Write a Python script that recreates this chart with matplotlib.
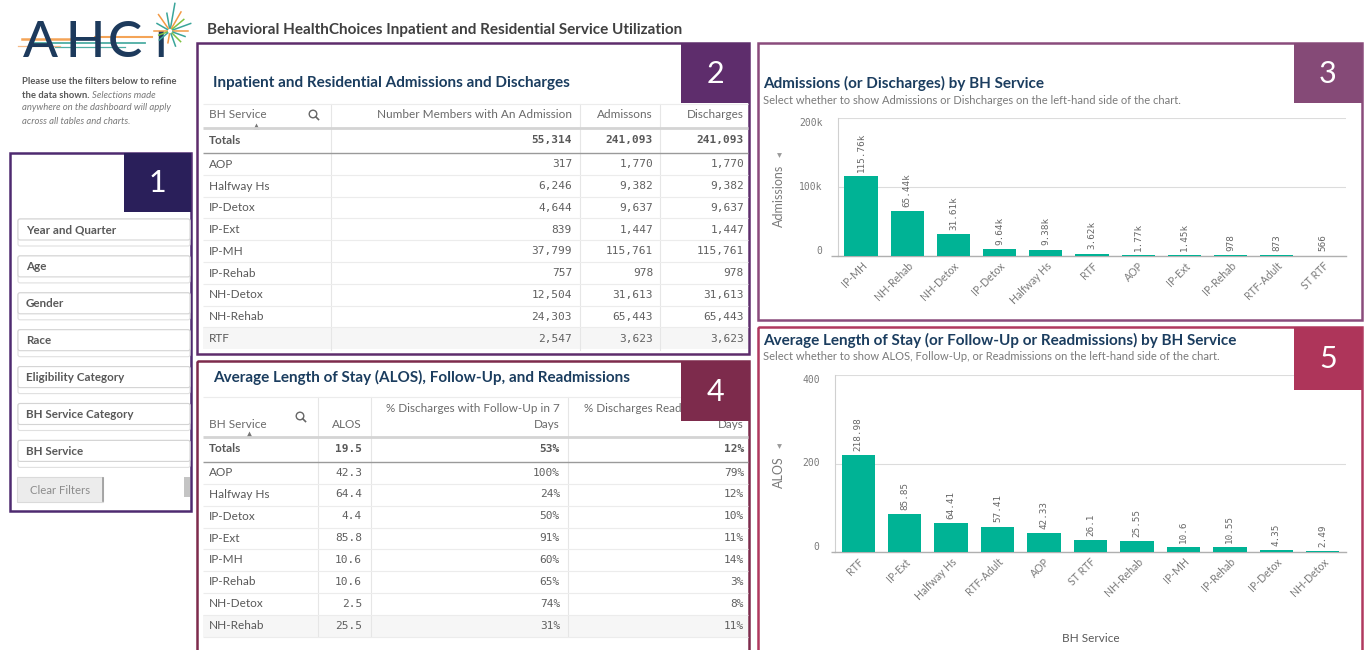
import matplotlib
matplotlib.use("Agg")
import matplotlib.pyplot as plt
from matplotlib.patches import Rectangle, FancyBboxPatch, Circle
import numpy as np

W, H = 1364, 650
SANS = ['Lato', 'DejaVu Sans']
MONO = 'DejaVu Sans Mono'
plt.rcParams['font.family'] = SANS

# --- table 2: admissions and discharges ---
services = ['AOP', 'Halfway Hs', 'IP-Detox', 'IP-Ext', 'IP-MH', 'IP-Rehab',
            'NH-Detox', 'NH-Rehab', 'RTF']
members = [317, 6246, 4644, 839, 37799, 757, 12504, 24303, 2547]
admissions = [1770, 9382, 9637, 1447, 115761, 978, 31613, 65443, 3623]
discharges = [1770, 9382, 9637, 1447, 115761, 978, 31613, 65443, 3623]
total_members = 55314
total_admissions = 241093
total_discharges = 241093

# --- table 4: ALOS, follow-up, readmissions ---
alos_services = ['AOP', 'Halfway Hs', 'IP-Detox', 'IP-Ext', 'IP-MH', 'IP-Rehab',
                 'NH-Detox', 'NH-Rehab']
alos_table = [42.3, 64.4, 4.4, 85.8, 10.6, 10.6, 2.5, 25.5]
followup_pct = [100, 24, 50, 91, 60, 65, 74, 31]
readmit_pct = [79, 12, 10, 11, 14, 3, 8, 11]
total_alos = 19.5
total_followup = 53
total_readmit = 12

# --- chart 3 ---
adm_cats = ['IP-MH', 'NH-Rehab', 'NH-Detox', 'IP-Detox', 'Halfway Hs', 'RTF',
            'AOP', 'IP-Ext', 'IP-Rehab', 'RTF-Adult', 'ST RTF']
adm_vals = [115761, 65443, 31613, 9637, 9382, 3623, 1770, 1447, 978, 873, 566]

# --- chart 5 ---
alos_cats = ['RTF', 'IP-Ext', 'Halfway Hs', 'RTF-Adult', 'AOP', 'ST RTF',
             'NH-Rehab', 'IP-MH', 'IP-Rehab', 'IP-Detox', 'NH-Detox']
alos_vals = [218.98, 85.85, 64.41, 57.41, 42.33, 26.1, 25.55, 10.6, 10.55, 4.35, 2.49]

filters = ['Year and Quarter', 'Age', 'Gender', 'Race', 'Eligibility Category',
           'BH Service Category', 'BH Service']

TEAL = '#00b395'
NAVY = '#1b3d5f'
GREY = '#595959'


def fmt_k(v):
    if v >= 1000:
        return f"{v / 1000:.2f}k"
    return str(v)


def fmt_num(v):
    return f"{v:.2f}".rstrip('0').rstrip('.')


def px_axes(fig, x0, y0, x1, y1):
    return fig.add_axes([x0 / W, 1 - y1 / H, (x1 - x0) / W, (y1 - y0) / H])


def number_box(bg, x0, y0, x1, y1, color, digit):
    bg.add_patch(Rectangle((x0, y0), x1 - x0, y1 - y0, fc=color, ec=color, lw=0, zorder=6))
    bg.text((x0 + x1) / 2, (y0 + y1) / 2 + 1, digit, color='white', fontsize=22,
            ha='center', va='center', zorder=7)


def search_icon(bg, x, y):
    bg.add_patch(Circle((x - 1, y - 1), 3.8, fill=False, ec='#666666', lw=1.0))
    bg.plot([x + 1.8, x + 4.5], [y + 1.8, y + 4.5], color='#666666', lw=1.2)


def sort_arrow(bg, x, y):
    bg.plot(x, y, marker='^', ms=4, color='#777777', mec='none')


def hline(bg, x0, x1, y, color, lw=0.8, z=2):
    bg.plot([x0, x1], [y, y], color=color, lw=lw, zorder=z, solid_capstyle='butt')


def bar_chart(ax, cats, vals, labels, ymax, ticks, ticklabels):
    x = np.arange(len(cats))
    ax.set_facecolor('none')
    ax.set_zorder(0)
    ax.bar(x, vals, width=0.72, color=TEAL, zorder=3)
    ax.set_xlim(-0.5, len(cats) - 0.5)
    ax.set_ylim(0, ymax)
    ax.set_yticks(ticks)
    ax.set_yticklabels(ticklabels, family=MONO, fontsize=7, color='#7a7a7a')
    for lab, va in zip(ax.get_yticklabels(), ['bottom', 'center', 'top']):
        lab.set_va(va)
    ax.tick_params(axis='y', length=0, pad=11)
    ax.tick_params(axis='x', length=0, pad=3)
    ax.grid(axis='y', color='#dcdcdc', lw=0.8, zorder=0)
    for s in ['top', 'right']:
        ax.spines[s].set_visible(False)
    ax.spines['left'].set_color('#d0d0d0')
    ax.spines['left'].set_linewidth(0.8)
    ax.spines['bottom'].set_color('#b0b0b0')
    ax.spines['bottom'].set_linewidth(1.0)
    for xi, v, s in zip(x, vals, labels):
        ax.annotate(s, (xi, v), xytext=(0, 3), textcoords='offset points', rotation=90,
                    ha='center', va='bottom', family=MONO, fontsize=6.7, color='#666666')
    ax.set_xticks(x)
    ax.set_xticklabels(cats, rotation=45, ha='right', rotation_mode='anchor',
                       fontsize=7.6, color='#7a7a7a')


def draw_logo(bg):
    # horizontal streaks behind the letters
    streaks = [(22, 70, 39, '#f39a45', 1.8), (95, 152, 37, '#f39a45', 1.5),
               (30, 145, 43, '#3aa59a', 1.3), (55, 125, 47, '#3aa59a', 0.9),
               (18, 60, 46, '#f6b27a', 0.9)]
    for x0, x1, y, c, lw in streaks:
        bg.plot([x0, x1], [y, y], color=c, lw=lw, alpha=0.9, zorder=3)
    for ch, x in zip(['A', 'H', 'C', 'ı'], [23, 66, 108, 154]):
        bg.text(x, 57, ch, fontsize=37, weight='medium', color='#1d3a5c', va='baseline',
                ha='left', zorder=4)
    cx, cy = 170, 31
    rays = [(80, 28, '#3aa59a'), (60, 22, '#f39a45'), (40, 18, '#7dc242'), (20, 22, '#3aa59a'),
            (0, 18, '#f39a45'), (-20, 16, '#3aa59a'), (-45, 15, '#7dc242'), (100, 18, '#3aa59a'),
            (125, 20, '#f39a45'), (150, 15, '#3aa59a'), (180, 16, '#f39a45'), (-70, 16, '#3aa59a'),
            (200, 12, '#7dc242'), (-100, 12, '#f39a45'), (-140, 14, '#3aa59a')]
    for ang, ln, c in rays:
        a = np.deg2rad(ang)
        bg.plot([cx + 3 * np.cos(a), cx + ln * np.cos(a)], [cy - 3 * np.sin(a), cy - ln * np.sin(a)],
                color=c, lw=1.1, zorder=5)


def main():
    fig = plt.figure(figsize=(W / 100, H / 100), dpi=100)
    bg = fig.add_axes([0, 0, 1, 1])
    bg.set_xlim(0, W)
    bg.set_ylim(H, 0)
    bg.axis('off')
    bg.set_zorder(2)

    # ---- left column ----
    draw_logo(bg)
    bg.text(22, 82, 'Please use the filters below to refine', fontsize=6.8, weight='bold',
            color=GREY, va='center')
    bg.text(22, 95, 'the data shown.', fontsize=6.8, weight='bold', color=GREY, va='center')
    bg.text(92, 95, 'Selections made', fontsize=6.8, style='italic', color='#7a7a7a', va='center')
    bg.text(22, 108, 'anywhere on the dashboard will apply', fontsize=6.8, style='italic',
            color='#7a7a7a', va='center')
    bg.text(22, 122, 'across all tables and charts.', fontsize=6.8, style='italic',
            color='#7a7a7a', va='center')

    bg.add_patch(Rectangle((10, 153), 181, 358, fill=False, ec='#4e2a70', lw=1.8))
    number_box(bg, 124, 153, 191, 212, '#2a1f5a', '1')
    for i, name in enumerate(filters):
        yc = 230 + i * 36.9
        bg.add_patch(FancyBboxPatch((18, yc - 11), 172, 27, boxstyle='round,pad=0,rounding_size=2',
                                    fc='white', ec='#e0e0e0', lw=0.8))
        bg.add_patch(FancyBboxPatch((18, yc - 11), 172, 21, boxstyle='round,pad=0,rounding_size=2',
                                    fc='white', ec='#d4d4d4', lw=0.8))
        bg.text(26, yc, name, fontsize=8.4, weight='bold', color=GREY, va='center')
    bg.add_patch(Rectangle((17, 477), 86, 25, fc='#ececec', ec='#dadada', lw=0.8))
    bg.plot([103, 103], [478, 501], color='#9a9a9a', lw=1.2)
    bg.text(60, 490, 'Clear Filters', fontsize=8.2, color='#8c8c8c', ha='center', va='center')
    bg.add_patch(Rectangle((184, 477), 6, 20, fc='#c4c4c4', ec='none'))

    bg.text(207, 30, 'Behavioral HealthChoices Inpatient and Residential Service Utilization',
            fontsize=11, weight='bold', color='#404040', va='center')

    # ---- panel 2: admissions table ----
    bg.add_patch(Rectangle((197, 43), 552, 311, fill=False, ec='#5e2d6c', lw=1.8))
    number_box(bg, 681, 43, 749, 103, '#5e2d6c', '2')
    bg.text(213, 83, 'Inpatient and Residential Admissions and Discharges', fontsize=11,
            weight='bold', color=NAVY, va='center')
    row_h = 21.8
    bg.add_patch(Rectangle((203, 153 + 8 * row_h), 545, row_h, fc='#f6f6f6', ec='none', zorder=1))
    for xs in [331, 580, 660]:
        bg.plot([xs, xs], [104, 350], color='#e6e6e6', lw=0.8)
    hline(bg, 203, 748, 104, '#ececec')
    bg.text(209, 115, 'BH Service', fontsize=8.5, color='#6a6a6a', va='center')
    search_icon(bg, 314, 115)
    sort_arrow(bg, 256, 126)
    for s, xr in zip(['Number Members with An Admission', 'Admissons', 'Discharges'], [572, 653, 744]):
        bg.text(xr, 115, s, fontsize=8.5, color='#6a6a6a', ha='right', va='center')
    hline(bg, 203, 748, 128, '#d4d4d4', lw=2)
    bg.text(209, 140, 'Totals', fontsize=8.5, weight='bold', color=GREY, va='center')
    for v, xr in zip([total_members, total_admissions, total_discharges], [572, 653, 744]):
        bg.text(xr, 140, f"{v:,}", family=MONO, fontsize=8, weight='bold', color=GREY,
                ha='right', va='center')
    hline(bg, 203, 748, 153, '#9a9a9a', lw=1)
    for i, svc in enumerate(services):
        y = 164.2 + i * row_h
        bg.text(209, y, svc, fontsize=8.5, color=GREY, va='center')
        for v, xr in zip([members[i], admissions[i], discharges[i]], [572, 653, 744]):
            bg.text(xr, y, f"{v:,}", family=MONO, fontsize=8, color='#606060', ha='right', va='center')
        if i < len(services) - 1:
            hline(bg, 203, 748, 153 + (i + 1) * row_h, '#ececec')

    # ---- panel 4: ALOS table ----
    bg.add_patch(Rectangle((197, 361), 552, 300, fill=False, ec='#7d2b4c', lw=1.8))
    bg.text(213, 377, 'Average Length of Stay (ALOS), Follow-Up, and Readmissions', fontsize=11,
            weight='bold', color=NAVY, va='center')
    row_h = 21.86
    bg.add_patch(Rectangle((203, 462 + 7 * row_h), 545, row_h, fc='#f6f6f6', ec='none', zorder=1))
    for xs in [317.5, 371, 568]:
        bg.plot([xs, xs], [397, 636], color='#e6e6e6', lw=0.8)
    hline(bg, 203, 748, 397, '#ececec')
    bg.text(209, 424, 'BH Service', fontsize=8.5, color='#6a6a6a', va='center')
    search_icon(bg, 301, 417)
    sort_arrow(bg, 249, 434)
    bg.text(362, 424, 'ALOS', fontsize=8.5, color='#6a6a6a', ha='right', va='center')
    bg.text(560, 408, '% Discharges with Follow-Up in 7', fontsize=8.4, color='#6a6a6a',
            ha='right', va='center')
    bg.text(560, 424, 'Days', fontsize=8.4, color='#6a6a6a', ha='right', va='center')
    # this header runs under the number badge; clip it at the badge edge
    head = bg.text(744, 408, '% Discharges Readmitted in 30', fontsize=8.4, color='#6a6a6a',
                   ha='right', va='center', zorder=2)
    head.set_clip_path(Rectangle((568, 395), 681 - 568, 30, transform=bg.transData))
    bg.text(744, 424, 'Days', fontsize=8.4, color='#6a6a6a', ha='right', va='center', zorder=2)
    number_box(bg, 681, 361, 749, 421, '#7d2b4c', '4')
    hline(bg, 203, 748, 437, '#d4d4d4', lw=2)
    bg.text(209, 449, 'Totals', fontsize=8.5, weight='bold', color=GREY, va='center')
    for s, xr in zip([f"{total_alos:.1f}", f"{total_followup}%", f"{total_readmit}%"], [362, 560, 744]):
        bg.text(xr, 449, s, family=MONO, fontsize=8, weight='bold', color=GREY, ha='right', va='center')
    hline(bg, 203, 748, 462, '#9a9a9a', lw=1)
    for i, svc in enumerate(alos_services):
        y = 472.5 + i * row_h
        bg.text(209, y, svc, fontsize=8.5, color=GREY, va='center')
        for s, xr in zip([f"{alos_table[i]:.1f}", f"{followup_pct[i]}%", f"{readmit_pct[i]}%"],
                         [362, 560, 744]):
            bg.text(xr, y, s, family=MONO, fontsize=8, color='#606060', ha='right', va='center')
        hline(bg, 203, 748, 462 + (i + 1) * row_h, '#ececec')

    # ---- panel 3: admissions chart ----
    bg.add_patch(Rectangle((758, 43), 604, 277, fill=False, ec='#8a4c7c', lw=1.8))
    number_box(bg, 1294, 43, 1362, 103, '#854a77', '3')
    bg.text(763, 83, 'Admissions (or Discharges) by BH Service', fontsize=11, weight='bold',
            color=NAVY, va='center')
    bg.text(763, 100, 'Select whether to show Admissions or Dishcharges on the left-hand side of the chart.',
            fontsize=8, color='#7a7a7a', va='center')
    bg.text(779, 196, 'Admissions', fontsize=9, color='#7a7a7a', rotation=90, ha='center', va='center')
    bg.plot(779, 155, marker='v', ms=3.5, color='#9a9a9a', mec='none')
    hline(bg, 831, 838, 256, '#b0b0b0', lw=1)
    ax3 = px_axes(fig, 838, 118, 1346, 256)
    bar_chart(ax3, adm_cats, adm_vals, [fmt_k(v) for v in adm_vals], 200000,
              [0, 100000, 200000], ['0', '100k', '200k'])

    # ---- panel 5: ALOS chart ----
    bg.add_patch(Rectangle((758, 327), 604, 330, fill=False, ec='#b0395f', lw=1.8))
    number_box(bg, 1294, 327, 1362, 390, '#ae355a', '5')
    bg.text(763, 340, 'Average Length of Stay (or Follow-Up or Readmissions) by BH Service',
            fontsize=11, weight='bold', color=NAVY, va='center')
    bg.text(763, 357, 'Select whether to show ALOS, Follow-Up, or Readmissions on the left-hand side of the chart.',
            fontsize=8, color='#7a7a7a', va='center')
    bg.text(779, 472, 'ALOS', fontsize=9, color='#7a7a7a', rotation=90, ha='center', va='center')
    bg.plot(779, 446, marker='v', ms=3.5, color='#9a9a9a', mec='none')
    bg.text(1091, 639, 'BH Service', fontsize=8.5, color='#595959', ha='center', va='center')
    hline(bg, 831, 835, 552, '#b0b0b0', lw=1)
    ax5 = px_axes(fig, 835, 375, 1346, 552)
    bar_chart(ax5, alos_cats, alos_vals, [fmt_num(v) for v in alos_vals], 400,
              [0, 200, 400], ['0', '200', '400'])

    fig.savefig('out.png', dpi=100, facecolor='white')
    plt.close(fig)


if __name__ == '__main__':
    main()
